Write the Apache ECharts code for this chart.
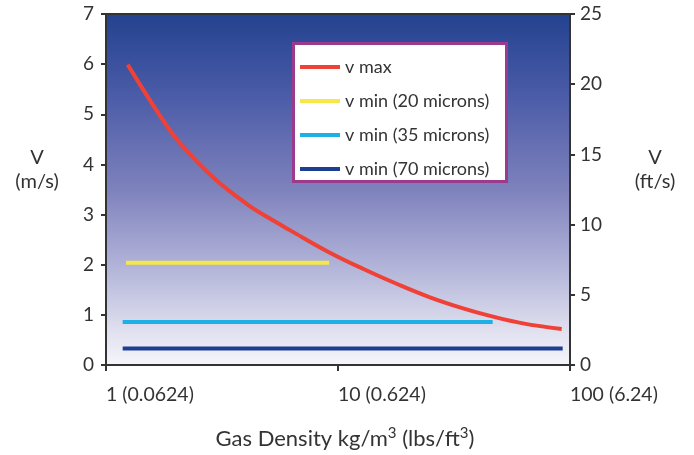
<!DOCTYPE html>
<html>
<head>
<meta charset="utf-8">
<script src="https://cdn.jsdelivr.net/npm/echarts@6/dist/echarts.min.js"></script>
<style>html,body{margin:0;padding:0;background:#fff;}#c{width:694px;height:455px;}</style>
</head>
<body>
<div id="c"></div>
<script>
// ---- data ----
const seriesNames = ['v max', 'v min (20 microns)', 'v min (35 microns)', 'v min (70 microns)'];
const vmaxDensity = [1.24, 1.71, 2.08, 2.90, 4.05, 5.09, 6.20, 9.23, 12.8, 18.5, 24.9, 34.6, 45.2, 62.7, 92.1];
const vmaxValues  = [5.99, 4.97, 4.43, 3.74, 3.21, 2.92, 2.69, 2.24, 1.92, 1.59, 1.35, 1.13, 0.98, 0.83, 0.72];
const vmin20Density = [1.22, 9.16];
const vmin20Values  = [2.04, 2.04];
const vmin35Density = [1.18, 46.4];
const vmin35Values  = [0.86, 0.86];
const vmin70Density = [1.18, 93];
const vmin70Values  = [0.33, 0.33];
const xTickValues = [1, 10, 100];
const xTickLabels = ['1 (0.0624)', '10 (0.624)', '100 (6.24)'];

const FONT = 'Lato';
const pair = (xs, ys) => xs.map((x, i) => [x, ys[i]]);
const colors = ['#ef4136', '#f7e84a', '#1cb0e6', '#1d3f93'];

const chart = echarts.init(document.getElementById('c'));
const option = {
  animation: false,
  textStyle: { fontFamily: FONT, color: '#333' },
  grid: {
    left: 106, right: 124, top: 14, bottom: 88,
    show: true,
    borderColor: '#333', borderWidth: 2,
    backgroundColor: new echarts.graphic.LinearGradient(0, 0, 0, 1, [
      { offset: 0, color: '#23428f' },
      { offset: 0.24, color: '#4c5ca8' },
      { offset: 0.5, color: '#7e82bc' },
      { offset: 0.72, color: '#b2b4d9' },
      { offset: 0.9, color: '#e0e0ef' },
      { offset: 1, color: '#f6f6fb' }
    ])
  },
  xAxis: {
    type: 'log', logBase: 10, min: 1, max: 100,
    axisLine: { lineStyle: { color: '#333', width: 2 } },
    axisTick: { show: true, length: 6, lineStyle: { color: '#333', width: 2 } },
    splitLine: { show: false },
    axisLabel: {
      fontFamily: FONT, fontSize: 19.5, color: '#333', align: 'left', margin: 20,
      formatter: v => { const i = xTickValues.findIndex(t => Math.abs(t - v) < 1e-6); return i >= 0 ? xTickLabels[i] : ''; }
    },
    name: '{a|Gas Density kg/m}{s|3}{a| (lbs/ft}{s|3}{a|)}',
    nameLocation: 'middle', nameGap: 61,
    nameTextStyle: {
      padding: [0, 0, 0, 14],
      rich: {
        a: { fontFamily: FONT, fontSize: 22, color: '#333', lineHeight: 26 },
        s: { fontFamily: FONT, fontSize: 15, color: '#333', verticalAlign: 'top', lineHeight: 14 }
      }
    }
  },
  yAxis: [
    {
      type: 'value', min: 0, max: 7, interval: 1, position: 'left',
      axisLine: { show: true, lineStyle: { color: '#333', width: 2 } },
      axisTick: { show: true, length: 5, lineStyle: { color: '#333', width: 2 } },
      splitLine: { show: false },
      axisLabel: { fontFamily: FONT, fontSize: 19, color: '#333', margin: 12 }
    },
    {
      type: 'value', min: 0, max: 25, interval: 5, position: 'right',
      axisLine: { show: true, lineStyle: { color: '#333', width: 2 } },
      axisTick: { show: true, length: 5, lineStyle: { color: '#333', width: 2 } },
      splitLine: { show: false },
      axisLabel: { fontFamily: FONT, fontSize: 19, color: '#333', margin: 10 }
    }
  ],
  legend: {
    orient: 'vertical', left: 300, top: 58, z: 10, padding: 0,
    icon: 'rect', itemWidth: 40, itemHeight: 4, itemGap: 16,
    textStyle: { fontFamily: FONT, fontSize: 18, color: '#333' },
    data: seriesNames
  },
  graphic: [
    { type: 'rect', z: 5, shape: { x: 293.5, y: 43.5, width: 213, height: 138 },
      style: { fill: '#fff', stroke: '#9c3a8e', lineWidth: 3 } },
    { type: 'text', x: 37, y: 146, style: { text: 'V\n(m/s)', font: '20px Lato', fill: '#333', textAlign: 'center', lineHeight: 24 } },
    { type: 'text', x: 655, y: 146, style: { text: 'V\n(ft/s)', font: '20px Lato', fill: '#333', textAlign: 'center', lineHeight: 24 } }
  ],
  series: [
    { name: seriesNames[0], type: 'line', data: pair(vmaxDensity, vmaxValues), smooth: 0.4, showSymbol: false, lineStyle: { color: colors[0], width: 4 }, itemStyle: { color: colors[0] } },
    { name: seriesNames[1], type: 'line', data: pair(vmin20Density, vmin20Values), showSymbol: false, lineStyle: { color: colors[1], width: 4 }, itemStyle: { color: colors[1] } },
    { name: seriesNames[2], type: 'line', data: pair(vmin35Density, vmin35Values), showSymbol: false, lineStyle: { color: colors[2], width: 4 }, itemStyle: { color: colors[2] } },
    { name: seriesNames[3], type: 'line', data: pair(vmin70Density, vmin70Values), showSymbol: false, lineStyle: { color: colors[3], width: 4 }, itemStyle: { color: colors[3] } }
  ]
};
chart.setOption(option);
</script>
</body>
</html>
